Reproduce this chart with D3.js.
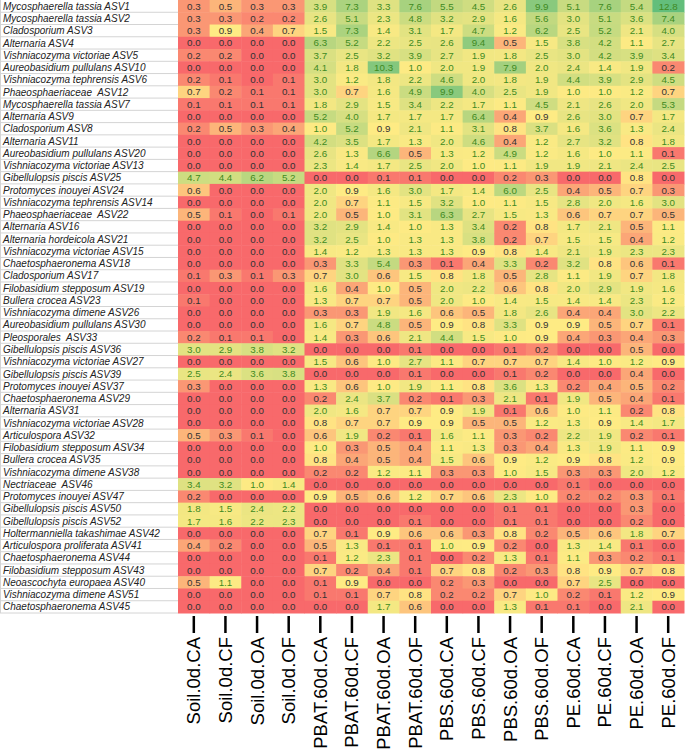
<!DOCTYPE html>
<html>
<head>
<meta charset="utf-8">
<script src="https://cdn.jsdelivr.net/npm/d3@7"></script>
<style>
  body { margin: 0; background: #fff; }
  svg { display: block; }
</style>
</head>
<body>
<svg id="chart" width="685" height="750"></svg>
<script>
// colonnes (échantillons)
const samples = [
  "Soil.0d.CA", "Soil.0d.CF", "Soil.0d.OA", "Soil.0d.OF",
  "PBAT.60d.CA", "PBAT.60d.CF", "PBAT.60d.OA", "PBAT.60d.OF",
  "PBS.60d.CA", "PBS.60d.CF", "PBS.60d.OA", "PBS.60d.OF",
  "PE.60d.CA", "PE.60d.CF", "PE.60d.OA", "PE.60d.OF",
];

// lignes (ASV)
const taxa = [
  "Mycosphaerella tassia ASV1", "Mycosphaerella tassia ASV2", "Cladosporium ASV3",
  "Alternaria ASV4", "Vishniacozyma victoriae ASV5", "Aureobasidium pullulans ASV10",
  "Vishniacozyma tephrensis ASV6", "Phaeosphaeriaceae  ASV12", "Mycosphaerella tassia ASV7",
  "Alternaria ASV9", "Cladosporium ASV8", "Alternaria ASV11",
  "Aureobasidium pullulans ASV20", "Vishniacozyma victoriae ASV13", "Gibellulopsis piscis ASV25",
  "Protomyces inouyei ASV24", "Vishniacozyma tephrensis ASV14", "Phaeosphaeriaceae  ASV22",
  "Alternaria ASV16", "Alternaria hordeicola ASV21", "Vishniacozyma victoriae ASV15",
  "Chaetosphaeronema ASV18", "Cladosporium ASV17", "Filobasidium stepposum ASV19",
  "Bullera crocea ASV23", "Vishniacozyma dimene ASV26", "Aureobasidium pullulans ASV30",
  "Pleosporales  ASV33", "Gibellulopsis piscis ASV36", "Vishniacozyma victoriae ASV27",
  "Gibellulopsis piscis ASV39", "Protomyces inouyei ASV37", "Chaetosphaeronema ASV29",
  "Alternaria ASV31", "Vishniacozyma victoriae ASV28", "Articulospora ASV32",
  "Filobasidium stepposum ASV34", "Bullera crocea ASV35", "Vishniacozyma dimene ASV38",
  "Nectriaceae  ASV46", "Protomyces inouyei ASV47", "Gibellulopsis piscis ASV50",
  "Gibellulopsis piscis ASV52", "Holtermanniella takashimae ASV42", "Articulospora proliferata ASV41",
  "Chaetosphaeronema ASV44", "Filobasidium stepposum ASV43", "Neoascochyta europaea ASV40",
  "Vishniacozyma dimene ASV51", "Chaetosphaeronema ASV45",
];

// abondances relatives (%), une ligne par ASV, dans l'ordre des colonnes
const abundances = [
  [0.3, 0.5, 0.3, 0.3, 3.9, 7.3, 3.3, 7.6, 5.5, 4.5, 2.6, 9.9, 5.1, 7.6, 5.4, 12.8],
  [0.3, 0.3, 0.2, 0.2, 2.6, 5.1, 2.3, 4.8, 3.2, 2.9, 1.6, 5.6, 3.0, 5.1, 3.6, 7.4],
  [0.3, 0.9, 0.4, 0.7, 1.5, 7.3, 1.4, 3.1, 1.7, 4.7, 1.2, 6.2, 2.5, 5.2, 2.1, 4.0],
  [0.0, 0.0, 0.0, 0.0, 6.3, 5.2, 2.2, 2.5, 2.6, 9.4, 0.5, 1.5, 3.8, 4.2, 1.1, 2.7],
  [0.2, 0.2, 0.0, 0.0, 3.7, 2.5, 3.2, 3.9, 2.7, 1.9, 1.8, 2.5, 3.0, 4.2, 3.9, 3.4],
  [0.0, 0.0, 0.0, 0.0, 4.1, 1.8, 10.3, 1.0, 2.0, 1.9, 7.9, 2.0, 2.4, 1.4, 1.9, 0.2],
  [0.2, 0.1, 0.0, 0.1, 3.0, 1.2, 1.8, 2.2, 4.6, 2.0, 1.8, 1.9, 4.4, 3.9, 2.9, 4.5],
  [0.7, 0.2, 0.1, 0.1, 3.0, 0.7, 1.6, 4.9, 9.9, 4.0, 2.5, 1.9, 1.0, 1.0, 1.2, 0.7],
  [0.1, 0.1, 0.1, 0.1, 1.8, 2.9, 1.5, 3.4, 2.2, 1.7, 1.1, 4.5, 2.1, 2.6, 2.0, 5.3],
  [0.0, 0.0, 0.0, 0.0, 5.2, 4.0, 1.7, 1.7, 1.7, 6.4, 0.4, 0.9, 2.6, 3.0, 0.7, 1.7],
  [0.2, 0.5, 0.3, 0.4, 1.0, 5.2, 0.9, 2.1, 1.1, 3.1, 0.8, 3.7, 1.6, 3.6, 1.3, 2.4],
  [0.0, 0.0, 0.0, 0.0, 4.2, 3.5, 1.7, 1.3, 2.0, 4.6, 0.4, 1.2, 2.7, 3.2, 0.8, 1.8],
  [0.0, 0.0, 0.0, 0.0, 2.6, 1.3, 6.6, 0.5, 1.3, 1.2, 4.9, 1.2, 1.6, 1.0, 1.1, 0.1],
  [0.0, 0.0, 0.0, 0.0, 2.3, 1.4, 1.7, 2.5, 2.0, 1.0, 1.1, 1.9, 1.9, 2.1, 2.4, 2.5],
  [4.7, 4.4, 6.2, 5.2, 0.0, 0.0, 0.1, 0.1, 0.0, 0.0, 0.2, 0.3, 0.0, 0.0, 0.8, 0.0],
  [0.6, 0.0, 0.0, 0.0, 2.0, 0.9, 1.6, 3.0, 1.7, 1.4, 6.0, 2.5, 0.4, 0.5, 0.7, 0.3],
  [0.0, 0.0, 0.0, 0.0, 2.0, 0.7, 1.1, 1.5, 3.2, 1.0, 1.1, 1.5, 2.8, 2.0, 1.6, 3.0],
  [0.5, 0.1, 0.0, 0.1, 2.0, 0.5, 1.0, 3.1, 6.3, 2.7, 1.5, 1.3, 0.6, 0.7, 0.7, 0.5],
  [0.0, 0.0, 0.0, 0.0, 3.2, 2.9, 1.4, 1.0, 1.3, 3.4, 0.2, 0.8, 1.7, 2.1, 0.5, 1.1],
  [0.0, 0.0, 0.0, 0.0, 3.2, 2.5, 1.0, 1.3, 1.3, 3.8, 0.2, 0.7, 1.5, 1.5, 0.4, 1.2],
  [0.0, 0.0, 0.0, 0.0, 1.4, 1.2, 1.3, 1.3, 1.3, 0.9, 0.8, 1.4, 2.1, 1.9, 2.3, 2.3],
  [0.0, 0.0, 0.0, 0.0, 0.3, 3.3, 5.4, 0.3, 0.1, 0.4, 3.3, 0.2, 3.2, 0.8, 0.6, 0.1],
  [0.1, 0.3, 0.1, 0.3, 0.7, 3.0, 0.6, 1.5, 0.8, 1.8, 0.5, 2.8, 1.1, 1.9, 0.7, 1.8],
  [0.0, 0.0, 0.0, 0.0, 1.6, 0.4, 1.0, 0.5, 2.0, 2.2, 0.6, 0.8, 2.0, 2.9, 1.9, 1.6],
  [0.1, 0.0, 0.0, 0.0, 1.3, 0.7, 0.7, 0.5, 2.0, 1.0, 1.4, 1.5, 1.4, 1.4, 2.3, 1.2],
  [0.0, 0.0, 0.0, 0.0, 0.3, 0.3, 1.9, 1.6, 0.6, 0.5, 1.8, 2.6, 0.4, 0.4, 3.0, 2.2],
  [0.0, 0.0, 0.0, 0.0, 1.6, 0.7, 4.8, 0.5, 0.9, 0.8, 3.3, 0.9, 0.9, 0.5, 0.7, 0.1],
  [0.2, 0.1, 0.1, 0.0, 1.4, 0.3, 0.6, 2.1, 4.4, 1.5, 1.0, 0.9, 0.4, 0.3, 0.4, 0.3],
  [3.0, 2.9, 3.8, 3.2, 0.0, 0.0, 0.0, 0.1, 0.0, 0.0, 0.1, 0.2, 0.0, 0.0, 0.5, 0.0],
  [0.0, 0.0, 0.0, 0.0, 1.5, 0.6, 1.0, 2.7, 1.1, 0.7, 0.7, 0.7, 1.4, 1.0, 1.2, 0.9],
  [2.5, 2.4, 3.6, 3.8, 0.0, 0.0, 0.0, 0.1, 0.0, 0.0, 0.1, 0.2, 0.0, 0.0, 0.4, 0.0],
  [0.3, 0.0, 0.0, 0.0, 1.3, 0.6, 1.0, 1.9, 1.1, 0.8, 3.6, 1.3, 0.2, 0.4, 0.5, 0.2],
  [0.0, 0.0, 0.0, 0.0, 0.2, 2.4, 3.7, 0.2, 0.1, 0.3, 2.1, 0.1, 1.9, 0.5, 0.4, 0.1],
  [0.0, 0.0, 0.0, 0.0, 2.0, 1.6, 0.7, 0.7, 0.9, 1.9, 0.1, 0.6, 1.0, 1.1, 0.2, 0.8],
  [0.0, 0.0, 0.0, 0.0, 0.8, 0.7, 0.7, 0.9, 0.9, 0.5, 0.5, 1.2, 1.3, 0.9, 1.4, 1.7],
  [0.5, 0.3, 0.1, 0.0, 0.6, 1.9, 0.2, 0.1, 1.6, 1.1, 0.3, 0.2, 2.2, 1.9, 0.2, 0.1],
  [0.0, 0.0, 0.0, 0.0, 1.0, 0.3, 0.5, 0.4, 1.1, 1.3, 0.3, 0.4, 1.3, 1.9, 1.1, 0.9],
  [0.0, 0.0, 0.0, 0.0, 0.8, 0.4, 0.5, 0.4, 1.5, 0.6, 0.9, 1.2, 0.9, 0.8, 1.2, 0.9],
  [0.0, 0.0, 0.0, 0.0, 0.2, 0.2, 1.2, 1.1, 0.3, 0.3, 1.0, 1.5, 0.3, 0.3, 2.0, 1.2],
  [3.4, 3.2, 1.0, 1.4, 0.0, 0.0, 0.0, 0.0, 0.0, 0.0, 0.0, 0.0, 0.1, 0.0, 0.0, 0.0],
  [0.2, 0.0, 0.0, 0.0, 0.9, 0.5, 0.6, 1.2, 0.7, 0.6, 2.3, 1.0, 0.2, 0.2, 0.3, 0.1],
  [1.8, 1.5, 2.4, 2.2, 0.0, 0.0, 0.0, 0.0, 0.0, 0.0, 0.1, 0.1, 0.0, 0.0, 0.3, 0.0],
  [1.7, 1.6, 2.2, 2.3, 0.0, 0.0, 0.0, 0.1, 0.0, 0.0, 0.1, 0.1, 0.0, 0.0, 0.2, 0.0],
  [0.0, 0.0, 0.0, 0.0, 0.7, 0.1, 0.9, 0.6, 0.6, 0.3, 0.8, 0.2, 0.5, 0.6, 1.8, 0.7],
  [0.4, 0.2, 0.0, 0.0, 0.5, 1.3, 0.1, 0.1, 1.0, 0.9, 0.2, 0.0, 1.3, 1.4, 0.1, 0.0],
  [0.0, 0.0, 0.0, 0.0, 0.1, 1.2, 2.3, 0.1, 0.0, 0.2, 1.3, 0.1, 1.1, 0.3, 0.2, 0.1],
  [0.0, 0.0, 0.0, 0.0, 0.7, 0.2, 0.4, 0.1, 0.7, 0.8, 0.2, 0.3, 0.8, 0.9, 0.7, 0.8],
  [0.5, 1.1, 0.0, 0.0, 0.1, 0.9, 0.0, 0.0, 0.2, 0.3, 0.0, 0.0, 0.7, 2.5, 0.0, 0.0],
  [0.0, 0.0, 0.0, 0.0, 0.1, 0.1, 0.7, 0.8, 0.2, 0.2, 0.7, 1.0, 0.2, 0.1, 1.2, 0.9],
  [0.0, 0.0, 0.0, 0.0, 0.0, 0.0, 1.7, 0.6, 0.0, 0.0, 1.3, 0.1, 0.1, 0.0, 2.1, 0.0],
];

const svg = d3.select("#chart");
const font = "'Liberation Sans', Arial, sans-serif";

const labelW = 178;
const gridTop = 0;
const gridBottom = 613;

const x = d3.scaleBand().domain(samples).range([labelW, 684]);
const y = d3.scaleBand().domain(taxa).range([gridTop, gridBottom]);

// échelle 3 couleurs rouge / jaune / vert (type Excel)
const maxVal = d3.max(abundances, (r) => d3.max(r));
const color = d3
  .scaleLinear()
  .domain([0, 0.85, maxVal])
  .range(["#f8696b", "#ffeb84", "#63be7b"]);

// cellules
const cells = [];
abundances.forEach((row, i) => {
  row.forEach((v, j) => {
    cells.push({ taxon: taxa[i], sample: samples[j], value: v });
  });
});

svg
  .selectAll("rect.cell")
  .data(cells)
  .enter()
  .append("rect")
  .attr("class", "cell")
  .attr("x", (d) => x(d.sample))
  .attr("y", (d) => y(d.taxon))
  .attr("width", x.bandwidth() + 0.5)
  .attr("height", y.bandwidth() + 0.5)
  .attr("fill", (d) => color(d.value));

svg
  .selectAll("text.val")
  .data(cells)
  .enter()
  .append("text")
  .attr("class", "val")
  .attr("x", (d) => x(d.sample) + x.bandwidth() / 2)
  .attr("y", (d) => y(d.taxon) + y.bandwidth() / 2)
  .attr("dy", "0.36em")
  .attr("text-anchor", "middle")
  .attr("font-family", font)
  .attr("font-size", 9.8)
  .attr("fill", (d) => (d.value >= 1 ? "#3f8a22" : "#333"))
  .text((d) => d.value.toFixed(1));

// zone des noms (tableau)
svg
  .selectAll("line.rowline")
  .data(taxa)
  .enter()
  .append("line")
  .attr("class", "rowline")
  .attr("x1", 0)
  .attr("x2", labelW)
  .attr("y1", (d) => y(d) + y.bandwidth())
  .attr("y2", (d) => y(d) + y.bandwidth())
  .attr("stroke", "#d4d4d4")
  .attr("stroke-width", 1);

svg
  .append("line")
  .attr("x1", 0.5)
  .attr("x2", 0.5)
  .attr("y1", gridTop)
  .attr("y2", gridBottom)
  .attr("stroke", "#d4d4d4");

svg
  .selectAll("text.taxon")
  .data(taxa)
  .enter()
  .append("text")
  .attr("class", "taxon")
  .attr("x", 3)
  .attr("y", (d) => y(d) + y.bandwidth() / 2)
  .attr("dy", "0.36em")
  .attr("font-family", font)
  .attr("font-style", "italic")
  .attr("font-size", 10)
  .attr("fill", "#222")
  .attr("xml:space", "preserve")
  .text((d) => d);

// axe du bas : traits + étiquettes verticales
const axis = svg.append("g");

axis
  .selectAll("line")
  .data(samples)
  .enter()
  .append("line")
  .attr("x1", (d) => x(d) + x.bandwidth() / 2)
  .attr("x2", (d) => x(d) + x.bandwidth() / 2)
  .attr("y1", gridBottom + 3)
  .attr("y2", gridBottom + 20)
  .attr("stroke", "#000")
  .attr("stroke-width", 2.5);

axis
  .selectAll("text")
  .data(samples)
  .enter()
  .append("text")
  .attr(
    "transform",
    (d) => `translate(${x(d) + x.bandwidth() / 2},${gridBottom + 24}) rotate(-90)`
  )
  .attr("text-anchor", "end")
  .attr("dy", "0.35em")
  .attr("font-family", font)
  .attr("font-size", 18.5)
  .attr("fill", "#000")
  .text((d) => d);
</script>
</body>
</html>
